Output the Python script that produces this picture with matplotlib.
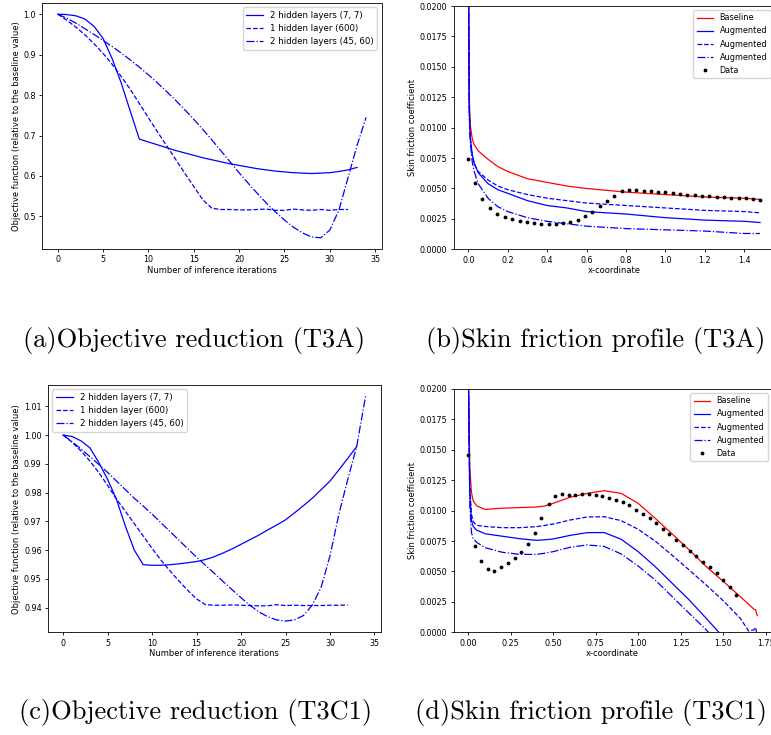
import matplotlib
matplotlib.use('Agg')
import matplotlib.pyplot as plt

# ---------------- data ----------------
iters_a_77 = list(range(0, 34))
obj_a_77 = [1.0, 0.999, 0.996, 0.988, 0.970, 0.940, 0.890, 0.830, 0.760, 0.691,
            0.684, 0.677, 0.670, 0.663, 0.657, 0.651, 0.645, 0.640, 0.635, 0.630,
            0.626, 0.622, 0.618, 0.615, 0.612, 0.610, 0.608, 0.607, 0.606, 0.607,
            0.608, 0.611, 0.615, 0.621]
iters_a_600 = list(range(0, 33))
obj_a_600 = [1.0, 0.985, 0.968, 0.949, 0.927, 0.903, 0.876, 0.846, 0.814, 0.779,
             0.744, 0.709, 0.675, 0.641, 0.607, 0.574, 0.541, 0.520, 0.517, 0.517,
             0.516, 0.516, 0.517, 0.518, 0.515, 0.515, 0.518, 0.516, 0.515, 0.517,
             0.515, 0.517, 0.517]
iters_a_4560 = list(range(0, 35))
obj_a_4560 = [1.0, 0.990, 0.978, 0.964, 0.950, 0.935, 0.920, 0.904, 0.887, 0.869,
              0.850, 0.830, 0.809, 0.787, 0.764, 0.740, 0.715, 0.689, 0.662, 0.635,
              0.608, 0.582, 0.557, 0.533, 0.511, 0.491, 0.473, 0.459, 0.449, 0.447,
              0.466, 0.515, 0.595, 0.675, 0.745]

iters_c_77 = list(range(0, 34))
obj_c_77 = [1.0, 0.9995, 0.998, 0.9956, 0.9905, 0.9846, 0.9776, 0.9683, 0.960, 0.9549,
            0.9547, 0.9547, 0.9549, 0.9552, 0.9556, 0.956, 0.9567, 0.9577, 0.959, 0.9604,
            0.962, 0.9636, 0.9652, 0.967, 0.9687, 0.9705, 0.9729, 0.9754, 0.978, 0.981,
            0.984, 0.9879, 0.9919, 0.996]
iters_c_600 = list(range(0, 33))
obj_c_600 = [1.0, 0.9975, 0.9945, 0.991, 0.987, 0.9825, 0.9777, 0.9735, 0.9692, 0.9649,
             0.9606, 0.9565, 0.9528, 0.9493, 0.946, 0.943, 0.941, 0.9408, 0.9408, 0.9409,
             0.9408, 0.9407, 0.9406, 0.9406, 0.941, 0.9407, 0.9408, 0.9407, 0.9407, 0.9407,
             0.9408, 0.9408, 0.9409]
iters_c_4560 = list(range(0, 35))
obj_c_4560 = [1.0, 0.9977, 0.9952, 0.9925, 0.9898, 0.987, 0.984, 0.981, 0.978, 0.9753,
              0.9725, 0.9695, 0.9665, 0.9635, 0.9605, 0.9575, 0.9547, 0.9519, 0.949, 0.9462,
              0.9434, 0.9408, 0.9385, 0.9368, 0.9357, 0.9353, 0.9357, 0.9372, 0.9408, 0.947,
              0.958, 0.9725, 0.9846, 0.996, 1.0135]

labels_obj = ["2 hidden layers (7, 7)", "1 hidden layer (600)", "2 hidden layers (45, 60)"]

# T3A skin friction
x_b = [0.0, 0.002, 0.005, 0.01, 0.02, 0.03, 0.05, 0.1, 0.15, 0.2, 0.3, 0.4, 0.5,
       0.6, 0.8, 1.0, 1.2, 1.4, 1.48]
cf_b_base = [0.05, 0.02, 0.0125, 0.0102, 0.0091, 0.0086, 0.0081, 0.0074, 0.0068, 0.0064,
             0.0058, 0.0055, 0.0052, 0.0050, 0.0047, 0.0045, 0.0043, 0.0042, 0.0041]
cf_b_aug1 = [0.05, 0.02, 0.0115, 0.0092, 0.0078, 0.0071, 0.0063, 0.0054, 0.0049, 0.0046,
             0.0040, 0.0036, 0.0034, 0.0031, 0.0029, 0.0026, 0.0024, 0.0023, 0.0022]
cf_b_aug2 = [0.05, 0.02, 0.0115, 0.0092, 0.0077, 0.0070, 0.0064, 0.0057, 0.0052, 0.0049,
             0.0045, 0.0042, 0.0040, 0.0038, 0.0036, 0.0034, 0.0032, 0.0031, 0.0030]
cf_b_aug3 = [0.05, 0.02, 0.0110, 0.0088, 0.0072, 0.0064, 0.0054, 0.0042, 0.0035, 0.0031,
             0.0026, 0.0023, 0.0021, 0.0019, 0.0017, 0.0016, 0.0015, 0.0013, 0.0013]
x_b_data = [0.0, 0.035, 0.071, 0.108, 0.147, 0.186, 0.223, 0.26, 0.297, 0.332, 0.37,
            0.408, 0.445, 0.481, 0.518, 0.555, 0.59, 0.627, 0.666, 0.703, 0.74, 0.778,
            0.815, 0.852, 0.889, 0.926, 0.963, 1.0, 1.037, 1.074, 1.111, 1.149, 1.186,
            1.223, 1.26, 1.297, 1.334, 1.371, 1.408, 1.445, 1.48]
cf_b_data = [0.0074, 0.00546, 0.00417, 0.00338, 0.00288, 0.00263, 0.00247, 0.00233,
             0.00225, 0.00214, 0.00209, 0.0021, 0.0021, 0.00214, 0.00228, 0.00244,
             0.00274, 0.0031, 0.00357, 0.00398, 0.00442, 0.00478, 0.00491, 0.00491,
             0.00483, 0.00478, 0.00472, 0.00467, 0.00464, 0.00456, 0.0045, 0.00445,
             0.00442, 0.00436, 0.00431, 0.00428, 0.00425, 0.00423, 0.0042, 0.00417,
             0.00403]

# T3C1 skin friction
x_d = [0.0, 0.003, 0.01, 0.02, 0.03, 0.05, 0.1, 0.2, 0.3, 0.4, 0.45, 0.5, 0.6, 0.7,
       0.8, 0.9, 1.0, 1.1, 1.2, 1.3, 1.4, 1.5, 1.6, 1.65, 1.68, 1.69, 1.7]
cf_d_base = [0.05, 0.02, 0.0135, 0.0115, 0.0108, 0.0104, 0.0101, 0.0102, 0.01025, 0.0103,
             0.01038, 0.0106, 0.0111, 0.01142, 0.01164, 0.01142, 0.0106, 0.00937, 0.00808,
             0.00677, 0.0054, 0.00419, 0.00293, 0.0023, 0.0019, 0.00185, 0.00137]
cf_d_aug1 = [0.05, 0.02, 0.0115, 0.0092, 0.0087, 0.0084, 0.0081, 0.0079, 0.0077, 0.00756,
             0.0076, 0.00767, 0.00797, 0.00819, 0.0082, 0.00765, 0.00663, 0.0054, 0.00403,
             0.00266, 0.00115, -0.0004, -0.002, -0.003, -0.0035, -0.0036, -0.004]
cf_d_aug2 = [0.05, 0.02, 0.012, 0.0097, 0.0091, 0.0088, 0.0087, 0.0086, 0.0086, 0.00868,
             0.00878, 0.0089, 0.00923, 0.00948, 0.0095, 0.00918, 0.00847, 0.0075, 0.00633,
             0.00512, 0.00389, 0.0026, 0.00115, 0.0001, 0.0002, 0.0004, -0.0003]
cf_d_aug3 = [0.05, 0.02, 0.0105, 0.0082, 0.0077, 0.0074, 0.00696, 0.00658, 0.00641, 0.0064,
             0.0065, 0.00663, 0.00699, 0.00718, 0.00706, 0.00644, 0.00545, 0.0043, 0.00293,
             0.00156, 0.0002, -0.0012, -0.0025, -0.003, -0.0033, -0.0034, -0.0035]
x_d_data = [0.0, 0.039, 0.078, 0.116, 0.155, 0.194, 0.235, 0.275, 0.314, 0.353, 0.392,
            0.431, 0.473, 0.514, 0.553, 0.592, 0.631, 0.671, 0.712, 0.751, 0.79, 0.829,
            0.869, 0.908, 0.947, 0.986, 1.027, 1.067, 1.106, 1.145, 1.184, 1.224, 1.263,
            1.302, 1.341, 1.38, 1.42, 1.461, 1.5, 1.539, 1.578]
cf_d_data = [0.01458, 0.0071, 0.00589, 0.0052, 0.00507, 0.00537, 0.00573, 0.00614, 0.00663,
             0.00729, 0.00816, 0.00942, 0.01055, 0.01123, 0.0114, 0.01132, 0.01129, 0.01134,
             0.01134, 0.01129, 0.0112, 0.01107, 0.0109, 0.01071, 0.01044, 0.01008, 0.00973,
             0.00942, 0.00896, 0.00849, 0.00805, 0.00762, 0.00718, 0.00671, 0.00627, 0.00581,
             0.00534, 0.00485, 0.0043, 0.0037, 0.00307]

captions = ["(a)Objective reduction (T3A)", "(b)Skin friction profile (T3A)",
            "(c)Objective reduction (T3C1)", "(d)Skin friction profile (T3C1)"]

# ---------------- figure ----------------
W, H = 771, 735
fig = plt.figure(figsize=(W / 100, H / 100), dpi=100)

TICK = 5.8
LAB = 6.0
LW = 0.9


def ax_px(l, t, r, b):
    return fig.add_axes([l / W, 1 - b / H, (r - l) / W, (b - t) / H])


def style(ax):
    ax.tick_params(labelsize=TICK, length=2.5, width=0.6, pad=2)
    for s in ax.spines.values():
        s.set_linewidth(0.6)


def obj_panel(ax, xs, ys, loc):
    styles = ['-', '--', '-.']
    for x, y, ls, lab in zip(xs, ys, styles, labels_obj):
        ax.plot(x, y, color='blue', ls=ls, lw=LW, label=lab)
    ax.set_xlabel("Number of inference iterations", fontsize=LAB, labelpad=1)
    ax.set_ylabel("Objective function (relative to the baseline value)", fontsize=LAB, labelpad=2)
    ax.legend(loc=loc, fontsize=6.2, handlelength=2.0)
    ax.set_xticks([0, 5, 10, 15, 20, 25, 30, 35])
    style(ax)


def cf_panel(ax, x, base, a1, a2, a3, xd, yd, xlim):
    ax.plot(x, base, color='red', lw=LW, label='Baseline')
    ax.plot(x, a1, color='blue', ls='-', lw=LW, label='Augmented')
    ax.plot(x, a2, color='blue', ls='--', lw=LW, label='Augmented')
    ax.plot(x, a3, color='blue', ls='-.', lw=LW, label='Augmented')
    ax.plot(xd, yd, 'k.', ms=3.5, label='Data')
    ax.set_ylim(0, 0.02)
    ax.set_xlim(*xlim)
    ax.set_xlabel("x-coordinate", fontsize=LAB, labelpad=1)
    ax.set_ylabel("Skin friction coefficient", fontsize=LAB, labelpad=2)
    ax.legend(loc='upper right', fontsize=5.9, handlelength=2.0)
    style(ax)


ax_a = ax_px(42.3, 3, 381.5, 249)
obj_panel(ax_a, [iters_a_77, iters_a_600, iters_a_4560], [obj_a_77, obj_a_600, obj_a_4560], 'upper right')

ax_b = ax_px(453.7, 6, 774.6, 249.3)
cf_panel(ax_b, x_b, cf_b_base, cf_b_aug1, cf_b_aug2, cf_b_aug3, x_b_data, cf_b_data, (-0.074, 1.554))
ax_b.set_xticks([0.0, 0.2, 0.4, 0.6, 0.8, 1.0, 1.2, 1.4])

ax_c = ax_px(48, 385, 380.7, 632.3)
obj_panel(ax_c, [iters_c_77, iters_c_600, iters_c_4560], [obj_c_77, obj_c_600, obj_c_4560], 'upper left')

ax_d = ax_px(453.6, 389, 771.7, 632.3)
cf_panel(ax_d, x_d, cf_d_base, cf_d_aug1, cf_d_aug2, cf_d_aug3, x_d_data, cf_d_data, (-0.085, 1.785))

cap_pos = [(194, 341), (596, 341), (196, 713), (591, 713)]
for (cx, cy), txt in zip(cap_pos, captions):
    fig.text(cx / W, 1 - cy / H, txt, ha='center', va='center', fontsize=19, family='cmr10')

fig.savefig('out.png', dpi=100)
